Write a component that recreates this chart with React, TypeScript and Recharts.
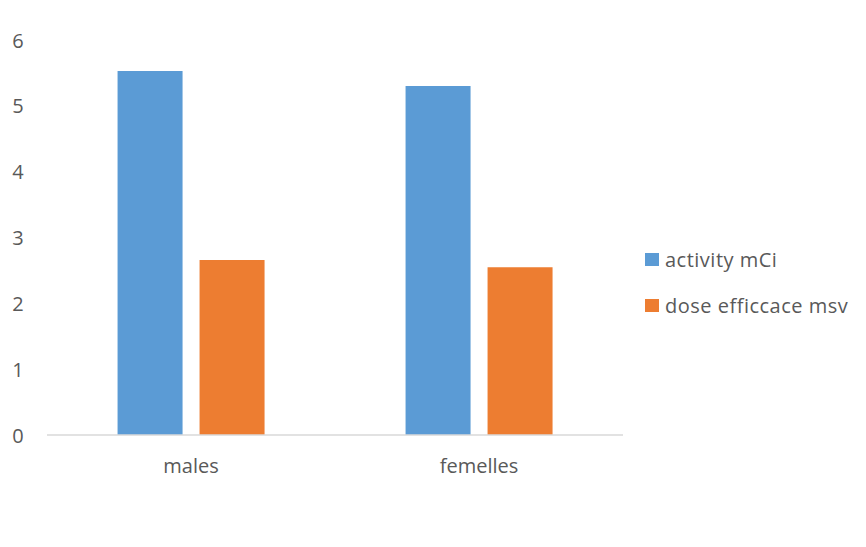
import React from "react";
import { BarChart, Bar, XAxis, YAxis } from "recharts";

// Categories and series values
const groups = ["males", "femelles"];
const activityMCi = [5.53, 5.3];
const doseEfficaceMsv = [2.66, 2.55];
const yTicks = [0, 1, 2, 3, 4, 5, 6];

const seriesNames = ["activity mCi", "dose efficcace msv"];
const seriesColors = ["#5B9BD5", "#ED7D31"];

const data = groups.map((g, i) => ({
  name: g,
  activity: activityMCi[i],
  dose: doseEfficaceMsv[i],
}));

const FONT = "'Open Sans', sans-serif";
const TEXT = "#595959";

const YTick = (props: any) => {
  const { y, payload } = props;
  return (
    <text x={18} y={y} textAnchor="middle" dominantBaseline="central" fill={TEXT} fontSize={20} fontFamily={FONT}>
      {payload.value}
    </text>
  );
};

const XTick = (props: any) => {
  const { x, payload } = props;
  return (
    <text x={x} y={465} textAnchor="middle" dominantBaseline="central" fill={TEXT} fontSize={20} fontFamily={FONT}>
      {payload.value}
    </text>
  );
};

// Series key, placed to the right of the plot area
const SeriesKey = () => (
  <div
    style={{
      position: "absolute",
      left: 645,
      top: 236,
      width: 215,
      fontFamily: FONT,
      fontSize: 20,
      letterSpacing: 0.5,
      color: TEXT,
    }}
  >
    {seriesNames.map((n, i) => (
      <div key={n} style={{ display: "flex", alignItems: "center", height: 46, whiteSpace: "nowrap" }}>
        <span style={{ display: "inline-block", width: 14, height: 13, background: seriesColors[i], marginRight: 6 }} />
        <span>{n}</span>
      </div>
    ))}
  </div>
);

export default function App() {
  return (
    <div style={{ position: "absolute", left: 0, top: 0, width: 866, height: 547, background: "#fff" }}>
      <BarChart
        width={866}
        height={547}
        data={data}
        margin={{ top: 40, right: 243, bottom: 82, left: 0 }}
        barCategoryGap="24.5%"
        barGap={17}
      >
        <YAxis
          width={47}
          domain={[0, 6]}
          ticks={yTicks}
          axisLine={false}
          tickLine={false}
          tick={<YTick />}
          interval={0}
        />
        <XAxis
          dataKey="name"
          height={30}
          axisLine={{ stroke: "#d9d9d9", strokeWidth: 1.5 }}
          tickLine={false}
          tick={<XTick />}
        />
        <Bar dataKey="activity" name={seriesNames[0]} fill={seriesColors[0]} isAnimationActive={false} />
        <Bar dataKey="dose" name={seriesNames[1]} fill={seriesColors[1]} isAnimationActive={false} />
      </BarChart>
      <SeriesKey />
    </div>
  );
}
